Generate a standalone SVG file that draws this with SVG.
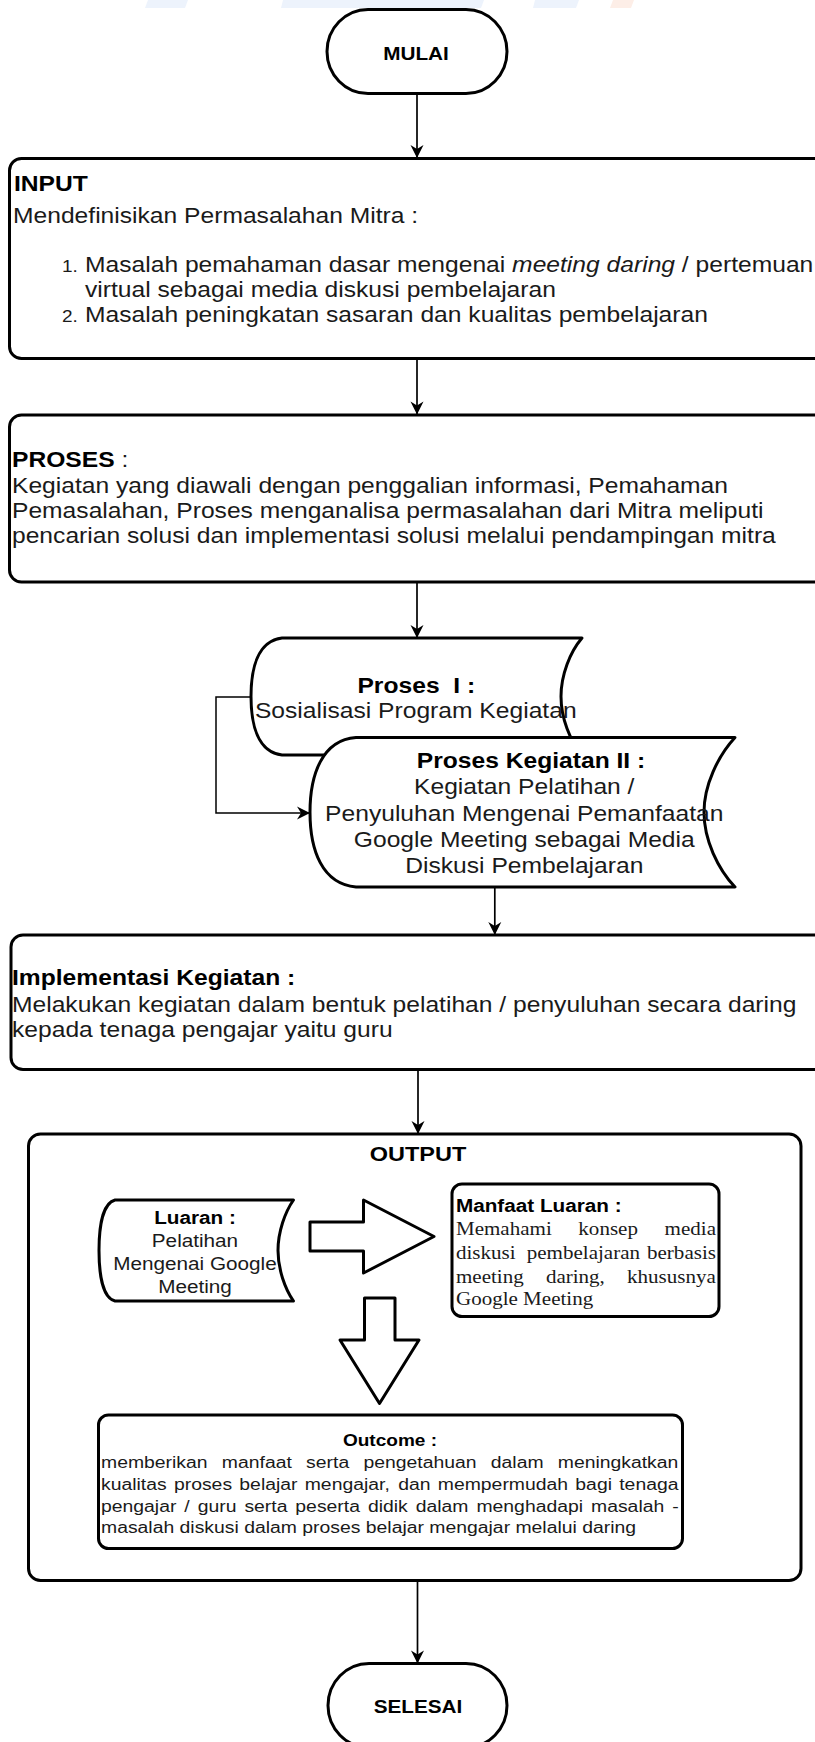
<svg xmlns="http://www.w3.org/2000/svg" width="815" height="1742" viewBox="0 0 815 1742">
<defs>
<style>
.sh{fill:#fff;stroke:#000;stroke-width:3;stroke-linejoin:round}
.cn{fill:none;stroke:#000;stroke-width:1.7}
.tx{font-family:"Liberation Sans",Arial,sans-serif;font-size:22px;fill:#1a1a1a}
.bd{font-weight:bold;fill:#000}
.mid{text-anchor:middle}
.sf{font-family:"Liberation Serif","Times New Roman",serif;font-size:18.8px;fill:#1a1a1a}
.wm{fill:#edf3fc}
</style>
<marker id="ah" markerUnits="userSpaceOnUse" markerWidth="16" markerHeight="16" viewBox="-14 -8 16 16" refX="0" refY="0" orient="auto">
<path d="M0,0 L-13,-6.5 L-9,0 L-13,6.5 Z" fill="#000"/>
</marker>
</defs>
<rect x="0" y="0" width="815" height="1742" fill="#fff"/>
<g id="watermark">
<polygon class="wm" points="148,0 188,0 185,8 145,8"/>
<polygon class="wm" points="283,0 484,0 481,8 281,8"/>
<polygon class="wm" points="535,0 579,0 576,8 533,8"/>
<polygon points="613,0 634,0 631,8 610,8" fill="#fdeee7"/>
</g>

<g id="mulai">
<rect class="sh" x="327" y="9.5" width="180" height="84" rx="41" ry="42"/>
<g transform="scale(1.12 1)"><text class="tx bd mid" x="371.4" y="60" style="font-size:18.5px">MULAI</text></g>
</g>

<g id="input">
<rect class="sh" x="9.5" y="158.5" width="820" height="200" rx="12"/>
<g transform="scale(1.12 1)">
<text class="tx bd" x="12.5" y="191">INPUT</text>
<text class="tx" x="11.6" y="223">Mendefinisikan Permasalahan Mitra :</text>
<text class="tx" x="55.4" y="272" style="font-size:17px">1.</text>
<text class="tx" x="75.9" y="272">Masalah pemahaman dasar mengenai <tspan font-style="italic">meeting daring</tspan> / pertemuan</text>
<text class="tx" x="75.9" y="297">virtual sebagai media diskusi pembelajaran</text>
<text class="tx" x="55.4" y="322" style="font-size:17px">2.</text>
<text class="tx" x="75.9" y="322">Masalah peningkatan sasaran dan kualitas pembelajaran</text>
</g>
</g>

<g id="proses">
<rect class="sh" x="9.5" y="415" width="820" height="167" rx="12"/>
<g transform="scale(1.12 1)">
<text class="tx" x="10.7" y="467"><tspan class="bd">PROSES</tspan> :</text>
<text class="tx" x="10.7" y="493.5">Kegiatan yang diawali dengan penggalian informasi, Pemahaman</text>
<text class="tx" x="10.7" y="518.5">Pemasalahan, Proses menganalisa permasalahan dari Mitra meliputi</text>
<text class="tx" x="10.7" y="543.5">pencarian solusi dan implementasi solusi melalui pendampingan mitra</text>
</g>
</g>

<g id="proses1">
<path class="sh" d="M282,638 L582,638 C570,652 561,675 561,696.5 C561,718 570,741 582,755 L282,755 C258,752 251,725 251,696.5 C251,668 258,641 282,638 Z"/>
<g transform="scale(1.12 1)">
<text class="tx bd mid" x="371.7" y="692.7">Proses&#160; I :</text>
<text class="tx mid" x="371.2" y="718.3">Sosialisasi Program Kegiatan</text>
</g>
</g>

<g id="proses2">
<path class="sh" d="M356,737.5 L735,737.5 C718,756 704,785 704,812.25 C704,840 718,869 735,887 L356,887 C322,884 310,850 310,812.25 C310,775 322,740 356,737.5 Z"/>
<g transform="scale(1.12 1)">
<text class="tx bd mid" x="474.1" y="767.7">Proses Kegiatan II :</text>
<text class="tx mid" x="468.1" y="794.3">Kegiatan Pelatihan /</text>
<text class="tx mid" x="468.1" y="821">Penyuluhan Mengenai Pemanfaatan</text>
<text class="tx mid" x="468.1" y="846.7">Google Meeting sebagai Media</text>
<text class="tx mid" x="468.1" y="873.3">Diskusi Pembelajaran</text>
</g>
</g>

<g id="implementasi">
<rect class="sh" x="11" y="935" width="820" height="134.5" rx="12"/>
<g transform="scale(1.12 1)">
<text class="tx bd" x="10.7" y="985">Implementasi Kegiatan :</text>
<text class="tx" x="10.7" y="1011.7">Melakukan kegiatan dalam bentuk pelatihan / penyuluhan secara daring</text>
<text class="tx" x="10.7" y="1037.3">kepada tenaga pengajar yaitu guru</text>
</g>
</g>

<g id="output">
<rect class="sh" x="28.5" y="1134" width="772.5" height="446.5" rx="12"/>
<g transform="scale(1.12 1)">
<text class="tx bd mid" x="373.2" y="1160.7" style="font-size:21px">OUTPUT</text>
</g>
</g>

<g id="luaran">
<path class="sh" d="M115,1200 L293.5,1200 C285,1212 278,1232 278,1250.5 C278,1269 285,1289 293.5,1301 L115,1301 C103,1298 99,1275 99,1250.5 C99,1226 103,1203 115,1200 Z"/>
<g transform="scale(1.12 1)">
<text class="tx bd mid" x="174.1" y="1224" style="font-size:18.5px">Luaran :</text>
<text class="tx mid" x="174.1" y="1246.7" style="font-size:18.5px">Pelatihan</text>
<text class="tx mid" x="174.1" y="1270" style="font-size:18.5px">Mengenai Google</text>
<text class="tx mid" x="174.1" y="1292.7" style="font-size:18.5px">Meeting</text>
</g>
</g>

<g id="arrow-right">
<polygon class="sh" points="310,1222 363.5,1222 363.5,1200 434,1236.5 363.5,1273 363.5,1251 310,1251"/>
</g>

<g id="arrow-down">
<polygon class="sh" points="364.5,1298 395,1298 395,1340 419,1340 379.5,1403.5 340,1340 364.5,1340"/>
</g>

<g id="manfaat">
<rect class="sh" x="452" y="1184" width="267" height="132.5" rx="10"/>
<g transform="scale(1.12 1)">
<text class="tx bd" x="407.1" y="1211.7" style="font-size:18.5px">Manfaat Luaran :</text>
<text class="sf" y="1235"><tspan x="407.1">Memahami</tspan><tspan x="516.4">konsep</tspan><tspan x="593.4">media</tspan></text>
<text class="sf" y="1259.3"><tspan x="407.1">diskusi</tspan><tspan x="470.3">pembelajaran</tspan><tspan x="577.7">berbasis</tspan></text>
<text class="sf" y="1283.3"><tspan x="407.1">meeting</tspan><tspan x="487.4">daring,</tspan><tspan x="559.8">khususnya</tspan></text>
<text class="sf" x="407.1" y="1305">Google Meeting</text>
</g>
</g>

<g id="outcome">
<rect class="sh" x="98.5" y="1415" width="584" height="133.5" rx="10"/>
<g transform="scale(1.12 1)">
<text class="tx bd mid" x="348.2" y="1445.7" style="font-size:17px">Outcome :</text>
<text class="tx" y="1468.3" style="font-size:17.3px"><tspan x="90.2">memberikan</tspan><tspan x="198.1">manfaat</tspan><tspan x="273.3">serta</tspan><tspan x="324.5">pengetahuan</tspan><tspan x="438.2">dalam</tspan><tspan x="498">meningkatkan</tspan></text>
<text class="tx" y="1490" style="font-size:17.3px"><tspan x="90.2">kualitas</tspan><tspan x="155.3">proses</tspan><tspan x="213.7">belajar</tspan><tspan x="272.1">mengajar,</tspan><tspan x="355.5">dan</tspan><tspan x="390.9">mempermudah</tspan><tspan x="513.7">bagi</tspan><tspan x="552.9">tenaga</tspan></text>
<text class="tx" y="1511.7" style="font-size:17.3px"><tspan x="90.2">pengajar</tspan><tspan x="164.6">/</tspan><tspan x="176.5">guru</tspan><tspan x="218.2">serta</tspan><tspan x="263.7">peserta</tspan><tspan x="328.5">didik</tspan><tspan x="371.2">dalam</tspan><tspan x="425.4">menghadapi</tspan><tspan x="527.7">masalah</tspan><tspan x="600.2">-</tspan></text>
<text class="tx" x="90.2" y="1532.7" style="font-size:17.3px">masalah diskusi dalam proses belajar mengajar melalui daring</text>
</g>
</g>

<g id="selesai">
<rect class="sh" x="328" y="1663.5" width="179" height="84" rx="41" ry="42"/>
<g transform="scale(1.12 1)"><text class="tx bd mid" x="373.2" y="1713.3" style="font-size:18.5px">SELESAI</text></g>
</g>

<g id="connectors">
<path class="cn" d="M417,93.5 V158" marker-end="url(#ah)"/>
<path class="cn" d="M417,358 V414.5" marker-end="url(#ah)"/>
<path class="cn" d="M417,582 V638" marker-end="url(#ah)"/>
<path class="cn" d="M251,697 H216 V813 H310" style="stroke-width:1.5" marker-end="url(#ah)"/>
<path class="cn" d="M494.8,887 V935" marker-end="url(#ah)"/>
<path class="cn" d="M418,1069.5 V1134" marker-end="url(#ah)"/>
<path class="cn" d="M417.5,1580.5 V1663.5" marker-end="url(#ah)"/>
</g>
</svg>
